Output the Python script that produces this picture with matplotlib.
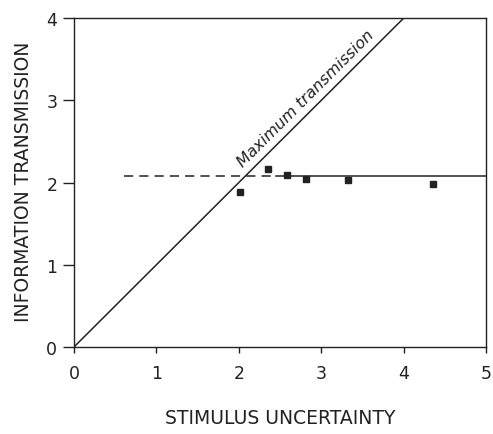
import matplotlib
matplotlib.use("Agg")
import matplotlib.pyplot as plt

# observed data points (stimulus uncertainty, information transmission)
stim_x = [2.02, 2.35, 2.59, 2.81, 3.33, 4.36]
info_y = [1.89, 2.17, 2.09, 2.04, 2.03, 1.98]

# channel capacity asymptote
capacity = 2.08
dash_x = [0.61, 2.45]
solid_x = [2.45, 5.0]

# maximum transmission line: info = stimulus
diag_x = [0.0, 4.0]

x_ticks = [0, 1, 2, 3, 4, 5]
y_ticks = [0, 1, 2, 3, 4]

ink = "#222222"
plt.rcParams["font.family"] = ["DejaVu Sans"]

fig = plt.figure(figsize=(4.93, 4.35), dpi=100)
ax = fig.add_axes([0.150, 0.200, 0.836, 0.756])

ax.plot(diag_x, diag_x, color=ink, lw=1.1)
ax.plot(dash_x, [capacity, capacity], color=ink, lw=1.1, ls=(0, (6, 4)))
ax.plot(solid_x, [capacity, capacity], color=ink, lw=1.1)
ax.plot(stim_x, info_y, "s", color=ink, ms=5)

ax.text(2.08, 2.16, "Maximum transmission", rotation=45,
        rotation_mode="anchor", ha="left", va="bottom",
        fontsize=11.5, style="italic", color=ink)

ax.set_xlim(0, 5)
ax.set_ylim(0, 4)
ax.set_xticks(x_ticks)
ax.set_yticks(y_ticks)
ax.tick_params(axis="y", direction="out", length=8, width=1, colors=ink,
               labelsize=12.5, pad=4)
ax.tick_params(axis="x", direction="out", length=4, width=1, colors=ink,
               labelsize=12.5, pad=8)
for s in ax.spines.values():
    s.set_color(ink)
    s.set_linewidth(1.0)

fig.text(0.568, 0.016, "STIMULUS UNCERTAINTY", ha="center", va="bottom",
         fontsize=13.5, color=ink)
fig.text(0.047, 0.582, "INFORMATION TRANSMISSION", ha="center", va="center",
         rotation=90, fontsize=13.5, color=ink)

fig.savefig("out.png", dpi=100)
